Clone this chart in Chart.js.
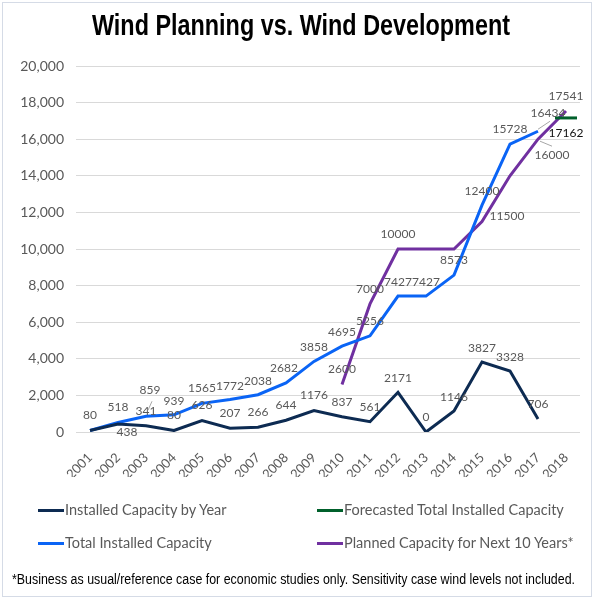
<!DOCTYPE html>
<html>
<head>
  <meta charset="utf-8">
  <title>Wind Planning vs. Wind Development</title>
  <script src="https://cdn.jsdelivr.net/npm/chart.js"></script>
  <style>
    body { margin: 0; background: #fff; }
    #wrap { position: relative; width: 600px; height: 600px; }
    #chart { position: absolute; left: 0; top: 0; }
    #frame { position: absolute; left: 2px; top: 2px; width: 588px; height: 593px; border: 1px solid #d5dbe6; pointer-events: none; }
    #title { position: absolute; left: 0; top: 8px; font-family: "Liberation Sans", Arial, sans-serif; font-weight: bold; font-size: 30px; color: #000; white-space: nowrap; transform-origin: 0 0; }
    .legend { position: absolute; font-family: Lato, sans-serif; font-size: 14.5px; color: #595959; white-space: nowrap; }
    .legend span { display: inline-block; width: 26px; height: 3px; vertical-align: middle; margin-right: 1px; position: relative; top: -1px; }
    #note { position: absolute; left: 12px; top: 571px; font-family: "Liberation Sans", Arial, sans-serif; font-size: 14px; color: #000; white-space: nowrap; transform-origin: 0 0; }
  </style>
</head>
<body>
<div id="wrap">
  <canvas id="chart" width="600" height="600"></canvas>
  <div id="title">Wind Planning vs. Wind Development</div>
  <div class="legend" style="left:38px; top:501px;"><span style="background:#0d2b52"></span>Installed Capacity by Year</div>
  <div class="legend" style="left:317px; top:501px;"><span style="background:#00602b"></span>Forecasted Total Installed Capacity</div>
  <div class="legend" style="left:38px; top:534px;"><span style="background:#0a64f5"></span>Total Installed Capacity</div>
  <div class="legend" style="left:317px; top:534px;"><span style="background:#7030a0"></span>Planned Capacity for Next 10 Years*</div>
  <div id="note">*Business as usual/reference case for economic studies only. Sensitivity case wind levels not included.</div>
  <div id="frame"></div>
</div>
<script>
  // Data
  const years = ['2001', '2002', '2003', '2004', '2005', '2006', '2007', '2008', '2009',
                 '2010', '2011', '2012', '2013', '2014', '2015', '2016', '2017', '2018'];
  const installedByYear = [80, 438, 341, 80, 626, 207, 266, 644, 1176, 837, 561, 2171, 0, 1146, 3827, 3328, 706, null];
  const totalInstalled = [80, 518, 859, 939, 1565, 1772, 2038, 2682, 3858, 4695, 5256, 7427, 7427, 8573, 12400, 15728, 16434, null];
  const forecastTotal = [null, null, null, null, null, null, null, null, null, null, null, null, null, null, null, null, null, 17162];
  const plannedCapacity = [null, null, null, null, null, null, null, null, null, 2600, 7000, 10000, 10000, 10000, 11500, 14000, 16000, 17541];

  // Label placement per series ([dx, dy] from the point, null = no label)
  const up = [0, -15];
  const installedLabelPos = [up, [9, 8], up, up, up, up, up, up, up, up, up, [0, -14], up, [0, -14], [0, -14], [0, -14], up, null];
  const totalLabelPos = [null, up, [4, -26], [0, -14], up, [0, -13], [0, -14], [-2, -15], [0, -14], [0, -14], up, [0, -14], [0, -14], up, [0, -14], up, [10, -18], null];
  const forecastLabelPos = [null, null, null, null, null, null, null, null, null, null, null, null, null, null, null, null, null, [0, 15]];
  const plannedLabelPos = [null, null, null, null, null, null, null, null, null, up, up, up, null, null, [25, -5], null, [14, 16], up];
  // leader lines [x1, y1, x2, y2] relative to the point
  const leaders = {
    1: { 2: [2, -6, 6, -15], 16: [0, -2, 12, -10] },
    3: { 16: [2, 2, 14, 7] }
  };
  const labelPositions = [installedLabelPos, totalLabelPos, forecastLabelPos, plannedLabelPos];
  const labelColors = ['#595959', '#595959', '#111111', '#595959'];

  // squeeze the Arial-like text to look like the narrow font of the original
  function fitWidth(el, width, centerX) {
    const w = el.getBoundingClientRect().width;
    const k = width / w;
    el.style.transform = 'scaleX(' + k + ')';
    if (centerX !== undefined) el.style.left = (centerX - width / 2) + 'px';
  }
  fitWidth(document.getElementById('title'), 418, 301);
  fitWidth(document.getElementById('note'), 563);

  const pointLabels = {
    id: 'pointLabels',
    afterDatasetsDraw(chart) {
      const ctx = chart.ctx;
      ctx.save();
      ctx.font = '12px Lato, sans-serif';
      ctx.textAlign = 'center';
      ctx.textBaseline = 'middle';
      chart.data.datasets.forEach((ds, i) => {
        const meta = chart.getDatasetMeta(i);
        meta.data.forEach((el, j) => {
          const v = ds.data[j];
          const pos = labelPositions[i][j];
          if (v === null || !pos) return;
          const lead = leaders[i] && leaders[i][j];
          if (lead) {
            ctx.strokeStyle = '#a6a6a6';
            ctx.lineWidth = 1;
            ctx.beginPath();
            ctx.moveTo(el.x + lead[0], el.y + lead[1]);
            ctx.lineTo(el.x + lead[2], el.y + lead[3]);
            ctx.stroke();
          }
          ctx.fillStyle = labelColors[i];
          ctx.fillText(String(v), el.x + pos[0], el.y + pos[1]);
        });
      });
      ctx.restore();
    }
  };

  new Chart(document.getElementById('chart'), {
    type: 'line',
    data: {
      labels: years,
      datasets: [
        { label: 'Installed Capacity by Year', data: installedByYear, borderColor: '#0d2b52', backgroundColor: '#0d2b52', borderWidth: 3, pointRadius: 0, tension: 0 },
        { label: 'Total Installed Capacity', data: totalInstalled, borderColor: '#0a64f5', backgroundColor: '#0a64f5', borderWidth: 3, pointRadius: 0, tension: 0 },
        { label: 'Forecasted Total Installed Capacity', data: forecastTotal, borderColor: '#00602b', backgroundColor: '#00602b', borderWidth: 3, pointStyle: 'line', pointRadius: 11, pointBorderWidth: 3, pointHoverRadius: 11 },
        { label: 'Planned Capacity for Next 10 Years*', data: plannedCapacity, borderColor: '#7030a0', backgroundColor: '#7030a0', borderWidth: 3, pointRadius: 0, tension: 0 }
      ]
    },
    options: {
      responsive: false,
      animation: false,
      layout: { padding: { left: 0, right: 20, top: 66, bottom: 123 } },
      plugins: {
        legend: { display: false },
        tooltip: { enabled: false }
      },
      scales: {
        x: {
          offset: true,
          grid: { display: false },
          border: { display: false },
          ticks: { color: '#595959', font: { family: 'Lato', size: 13 }, minRotation: 45, maxRotation: 45, autoSkip: false, padding: 10 },
          afterFit(scale) { scale.height = 45; }
        },
        y: {
          min: 0,
          max: 20000,
          ticks: { stepSize: 2000, color: '#595959', font: { family: 'Lato', size: 14 }, padding: 12,
                   callback: v => v.toLocaleString('en-US') },
          grid: { color: '#d9d9d9', drawTicks: false },
          border: { display: false },
          afterFit(scale) { scale.width = 76; }
        }
      }
    },
    plugins: [pointLabels]
  });
</script>
</body>
</html>
